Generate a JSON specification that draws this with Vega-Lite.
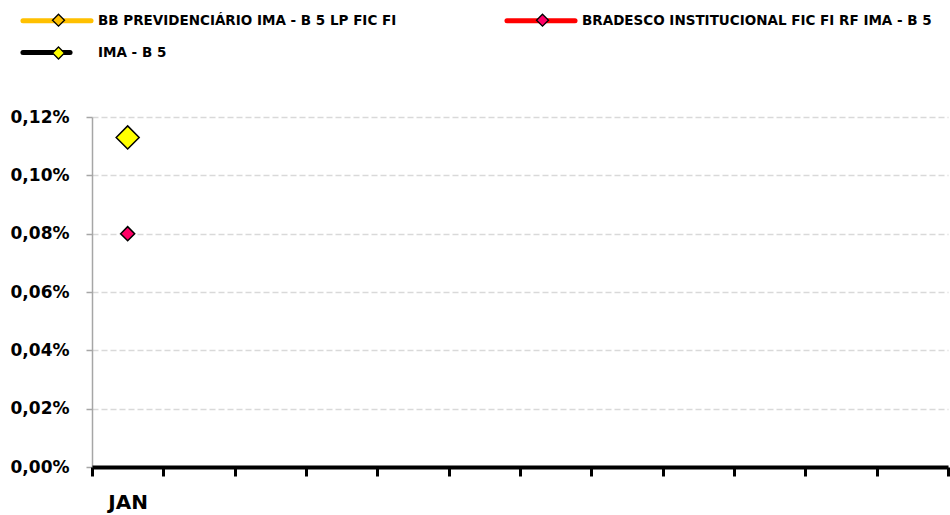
{
  "$schema": "https://vega.github.io/schema/vega-lite/v6.json",
  "width": 856,
  "height": 350,
  "autosize": {"type": "none"},
  "padding": {"left": 92, "top": 117, "right": 2, "bottom": 48},
  "background": "white",
  "config": {
    "view": {"stroke": null},
    "font": "DejaVu Sans",
    "locale": {"number": {"decimal": ",", "thousands": ".", "grouping": [3], "currency": ["R$", ""]}}
  },
  "data": {
    "values": [
      {"month": "JAN", "series": "BB PREVIDENCIÁRIO IMA - B 5 LP FIC FI", "code": "BB", "value": 0.00113},
      {"month": "JAN", "series": "BRADESCO INSTITUCIONAL FIC FI RF IMA - B 5", "code": "BRADESCO", "value": 0.0008},
      {"month": "JAN", "series": "IMA - B 5", "code": "IMA", "value": 0.00113}
    ]
  },
  "encoding": {
    "x": {
      "field": "month",
      "type": "nominal",
      "scale": {"domain": ["JAN", "FEV", "MAR", "ABR", "MAI", "JUN", "JUL", "AGO", "SET", "OUT", "NOV", "DEZ"], "paddingInner": 0, "paddingOuter": 0},
      "axis": {
        "title": null,
        "labelExpr": "datum.value === 'JAN' ? 'JAN' : ''",
        "labelAngle": 0,
        "labelFont": "DejaVu Sans",
        "labelFontSize": 20,
        "labelFontWeight": "bold",
        "labelColor": "black",
        "labelPadding": 16,
        "labelBaseline": "top",
        "domainColor": "black",
        "domainWidth": 4,
        "tickColor": "black",
        "tickWidth": 3,
        "tickSize": 9,
        "tickBand": "extent",
        "grid": false,
        "zindex": 2
      }
    },
    "y": {
      "field": "value",
      "type": "quantitative",
      "scale": {"domain": [0, 0.0012], "nice": false},
      "axis": {
        "title": null,
        "format": ".2%",
        "values": [0, 0.0002, 0.0004, 0.0006, 0.0008, 0.001, 0.0012],
        "labelFont": "DejaVu Sans",
        "labelFontSize": 17,
        "labelFontWeight": "bold",
        "labelColor": "black",
        "labelPadding": 17,
        "tickSize": 6,
        "tickColor": "#A6A6A6",
        "tickWidth": 1.5,
        "domainColor": "#A6A6A6",
        "domainWidth": 1.5,
        "grid": true,
        "gridColor": "#D9D9D9",
        "gridDash": [6, 3],
        "gridWidth": 1.5
      }
    }
  },
  "layer": [
    {
      "mark": {"type": "line", "strokeWidth": 5},
      "encoding": {
        "stroke": {
          "field": "series",
          "type": "nominal",
          "scale": {
            "domain": ["BB PREVIDENCIÁRIO IMA - B 5 LP FIC FI", "BRADESCO INSTITUCIONAL FIC FI RF IMA - B 5", "IMA - B 5"],
            "range": ["#FFC000", "#FF0000", "#000000"]
          },
          "legend": {
            "orient": "none",
            "legendX": -52.5,
            "legendY": -114,
            "columns": 2,
            "direction": "horizontal",
            "title": null,
            "padding": 0,
            "symbolType": "M-2.27,0L2.27,0",
            "symbolSize": 900,
            "symbolStrokeWidth": 5,
            "labelFont": "DejaVu Sans",
            "labelFontSize": 13.5,
            "labelFontWeight": "bold",
            "labelColor": "black",
            "labelOffset": 23.5,
            "columnPadding": 100,
            "rowPadding": 4,
            "labelLimit": 600,
            "zindex": 1,
            "encode": {
              "symbols": {
                "update": {
                  "shape": {"signal": "datum.value === 'IMA - B 5' ? 'M-2.27,0L0.87,0' : 'M-2.27,0L2.27,0'"},
                  "strokeCap": {"value": "round"}
                }
              }
            }
          }
        }
      }
    },
    {
      "transform": [{"filter": "datum.code === 'BB'"}],
      "mark": {"type": "point", "shape": "diamond", "filled": true, "stroke": "black", "strokeWidth": 1.5, "opacity": 1, "size": 300},
      "encoding": {
        "fill": {
          "field": "code",
          "type": "nominal",
          "scale": {
            "domain": ["BB", "BRADESCO", "IMA"],
            "range": ["#FFC000", "#FF0066", "#FFFF00"]
          },
          "legend": {
            "orient": "none",
            "legendX": -49.5,
            "legendY": -113,
            "columns": 2,
            "direction": "horizontal",
            "title": null,
            "padding": 0,
            "symbolType": "M-2.27,0M2.27,0M0,-0.4L0.4,0L0,0.4L-0.4,0Z",
            "symbolSize": 900,
            "symbolStrokeColor": "black",
            "symbolStrokeWidth": 1.3,
            "symbolOpacity": 1,
            "labelExpr": "''",
            "labelFontSize": 13.5,
            "labelOffset": 0,
            "columnPadding": 410,
            "rowPadding": 8,
            "zindex": 2
          }
        }
      }
    },
    {
      "transform": [{"filter": "datum.code === 'BRADESCO'"}],
      "mark": {"type": "point", "shape": "diamond", "filled": true, "stroke": "black", "strokeWidth": 1.5, "opacity": 1, "size": 196},
      "encoding": {
        "fill": {"field": "code", "type": "nominal", "scale": {"domain": ["BB", "BRADESCO", "IMA"], "range": ["#FFC000", "#FF0066", "#FFFF00"]}}
      }
    },
    {
      "transform": [{"filter": "datum.code === 'IMA'"}],
      "mark": {"type": "point", "shape": "diamond", "filled": true, "stroke": "black", "strokeWidth": 1.5, "opacity": 1, "size": 529},
      "encoding": {
        "fill": {"field": "code", "type": "nominal", "scale": {"domain": ["BB", "BRADESCO", "IMA"], "range": ["#FFC000", "#FF0066", "#FFFF00"]}}
      }
    }
  ]
}
